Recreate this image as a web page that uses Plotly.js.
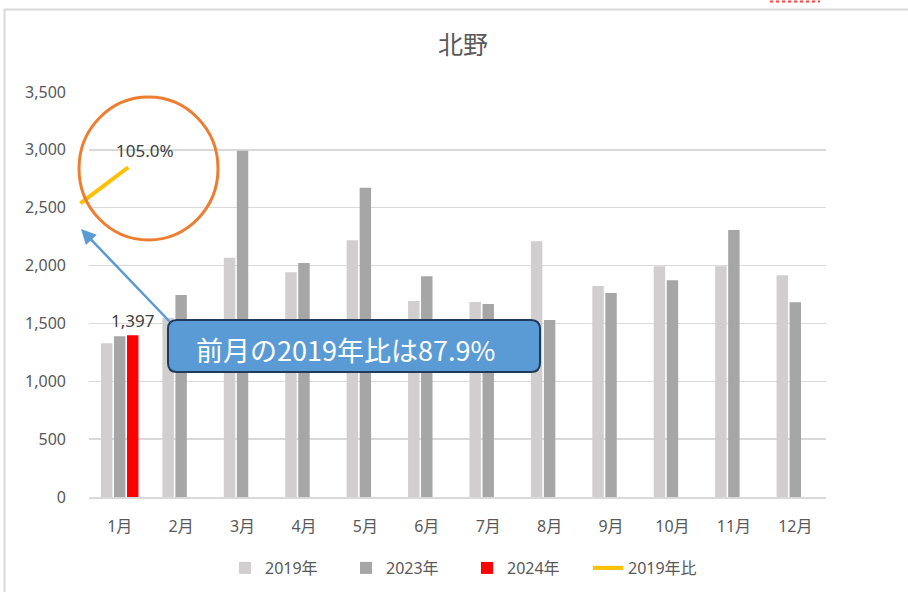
<!DOCTYPE html>
<html>
<head>
<meta charset="utf-8">
<script src="https://cdn.plot.ly/plotly-3.0.1.min.js"></script>
<style>html,body{margin:0;padding:0;background:#fff;}#chart{width:908px;height:592px;}</style>
</head>
<body>
<div id="chart"></div>
<script>
const months = ['1月','2月','3月','4月','5月','6月','7月','8月','9月','10月','11月','12月'];
const v2019 = [1328, 1550, 2068, 1942, 2218, 1694, 1685, 2210, 1824, 1994, 1994, 1916];
const v2023 = [1390, 1746, 2993, 2022, 2673, 1907, 1668, 1530, 1763, 1873, 2308, 1682];
const v2024 = [1397, null, null, null, null, null, null, null, null, null, null, null];
const ratioX = [-0.64, 0.14];
const ratioValues = [0.870, 0.977];
const ratioLabel = '105.0%';
const calloutText = '前月の2019年比は87.9%';
const leftTicks = [0, 500, 1000, 1500, 2000, 2500, 3000, 3500];
const rightTicks = [0, 0.2, 0.4, 0.6, 0.8, 1.0, 1.2];

const W = 908, H = 592, ML = 70, MR = 82, MT = 92, MB = 95;
const PW = W - ML - MR, PH = H - MT - MB;
const px = x => (x - ML) / PW;
const py = y => (H - MB - y) / PH;
const font = 'Noto Sans, Noto Sans CJK JP, sans-serif';
const cjk = 'Noto Sans CJK JP, Noto Sans, sans-serif';
const grey = '#595959';
const catW = (826 - 89) / 12;

const traces = [
  {type:'bar', name:'2019年', x:months, y:v2019, marker:{color:'#d0cece'}, hoverinfo:'skip'},
  {type:'bar', name:'2023年', x:months, y:v2023, marker:{color:'#a6a6a6'}, hoverinfo:'skip'},
  {type:'bar', name:'2024年', x:months, y:v2024, marker:{color:'#ff0000'},
   texttemplate:'%{y:,}', textposition:'outside', cliponaxis:false, constraintext:'none',
   textfont:{size:17, color:'#404040', family:font}, hoverinfo:'skip'},
  {type:'scatter', mode:'lines', name:'2019年比', x:ratioX, y:ratioValues, xaxis:'x2', yaxis:'y3',
   line:{color:'#ffc000', width:4}, hoverinfo:'skip'}
];

function roundRect(x0, y0, x1, y1, r) {
  const X = v => px(v), Y = v => py(v);
  return `M ${X(x0+r)} ${Y(y0)} L ${X(x1-r)} ${Y(y0)} Q ${X(x1)} ${Y(y0)} ${X(x1)} ${Y(y0+r)} ` +
         `L ${X(x1)} ${Y(y1-r)} Q ${X(x1)} ${Y(y1)} ${X(x1-r)} ${Y(y1)} ` +
         `L ${X(x0+r)} ${Y(y1)} Q ${X(x0)} ${Y(y1)} ${X(x0)} ${Y(y1-r)} ` +
         `L ${X(x0)} ${Y(y0+r)} Q ${X(x0)} ${Y(y0)} ${X(x0+r)} ${Y(y0)} Z`;
}

const layout = {
  width: W, height: H,
  margin: {l:ML, r:MR, t:MT, b:MB, autoexpand:false},
  paper_bgcolor:'#ffffff', plot_bgcolor:'rgba(0,0,0,0)',
  font: {family:font, color:grey, size:15},
  title: {text:'北野', xref:'container', x:463/W, xanchor:'center', yref:'container', y:1-45/H, yanchor:'middle',
          font:{size:25, color:grey, family:cjk}},
  barmode:'group', bargap:0.365, bargroupgap:0.12,
  showlegend:true,
  legend: {orientation:'h', xref:'container', x:467/W, xanchor:'center', yref:'container', y:1-568/H, yanchor:'middle',
           font:{size:16, color:grey, family:font}, entrywidth:76, entrywidthmode:'pixels',
           traceorder:'normal'},
  xaxis: {type:'category', domain:[px(89), 1], range:[-0.5, 11.5], showgrid:false, automargin:false,
          showline:true, linecolor:'#d9d9d9', linewidth:1.5, ticks:'', ticklabelstandoff:14,
          tickfont:{size:16, color:grey, family:font}, fixedrange:true},
  xaxis2: {domain:[0,1], anchor:'y3', range:[-0.5 - 19/catW, 11.5], visible:false, fixedrange:true},
  yaxis: {range:[0, 3500], tickvals:leftTicks, tickformat:',d', showgrid:true, gridcolor:'#d9d9d9',
          gridwidth:1.5, zeroline:false, showline:false, ticks:'', ticklabelstandoff:22, automargin:false,
          tickfont:{size:16, color:grey, family:font}, anchor:'x', fixedrange:true},
  yaxis2: {range:[0, 1.2], tickvals:rightTicks, tickformat:'.1%', overlaying:'y', side:'right',
           anchor:'x', showgrid:false, zeroline:false, showline:false, ticks:'', ticklabelstandoff:18,
           automargin:false, tickfont:{size:16, color:grey, family:font}, fixedrange:true},
  yaxis3: {domain:[0,1], anchor:'x2', range:[0, 1.2], visible:false, fixedrange:true},
  shapes: [
    {type:'rect', xref:'paper', yref:'paper', x0:px(4.5), x1:px(930), y0:py(610), y1:py(9.5),
     line:{color:'#d9d9d9', width:2}, fillcolor:'rgba(0,0,0,0)', layer:'below'},
    {type:'line', xref:'paper', yref:'paper', x0:px(770), x1:px(820), y0:py(1.5), y1:py(1.5),
     line:{color:'#ff4040', width:2, dash:'dot'}},
    {type:'circle', xref:'paper', yref:'paper', x0:px(79), x1:px(218), y0:py(240), y1:py(97),
     line:{color:'#ed7d31', width:3}, fillcolor:'rgba(0,0,0,0)'},
    {type:'path', xref:'paper', yref:'paper', path:roundRect(168, 320, 540, 372, 9),
     fillcolor:'#5b9bd5', line:{color:'#1f3a5a', width:2}}
  ],
  annotations: [
    {xref:'x2', yref:'y3', x:ratioX[1], y:ratioValues[1], text:ratioLabel, showarrow:false,
     xshift:17, yshift:17, font:{size:17, color:'#404040', family:font}},
    {xref:'paper', yref:'paper', x:px(345), y:py(349), text:calloutText, showarrow:false,
     xanchor:'center', yanchor:'middle', font:{size:27, color:'#ffffff', family:cjk}},
    {xref:'paper', yref:'paper', x:px(81), y:py(229), text:'', showarrow:true,
     ax:171-81, ay:323-229, arrowhead:2, arrowsize:1.2, arrowwidth:2.5, arrowcolor:'#5b9bd5', standoff:0}
  ]
};

Plotly.newPlot('chart', traces, layout, {displayModeBar:false, staticPlot:true});
</script>
</body>
</html>
